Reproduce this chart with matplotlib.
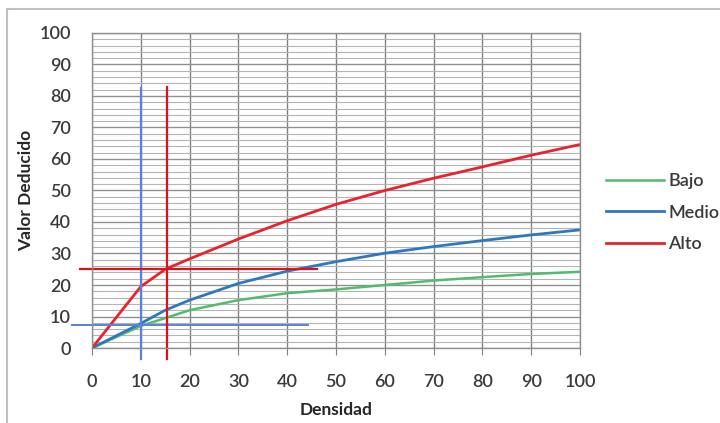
import matplotlib.pyplot as plt
from matplotlib.lines import Line2D
import numpy as np

# Densidad vs Valor Deducido
densidad = [0, 10, 15, 20, 30, 40, 50, 60, 70, 80, 90, 100]
bajo = [0, 7.0, 9.5, 12.0, 15.2, 17.4, 18.6, 20.0, 21.4, 22.5, 23.5, 24.2]
medio = [0, 7.8, 12.0, 15.2, 20.5, 24.4, 27.4, 30.1, 32.2, 34.1, 35.9, 37.5]
alto = [0, 19.5, 25.0, 28.3, 34.6, 40.4, 45.6, 50.0, 53.9, 57.5, 61.2, 64.6]

# lineas de lectura
ref_blue_x = 10
ref_blue_y = 7.4
ref_red_x = 15.4
ref_red_y = 25

plt.rcParams['font.family'] = ['Lato', 'DejaVu Sans']

fig = plt.figure(figsize=(7.2, 4.23), dpi=100)
ax = fig.add_axes([0.1278, 0.1773, 0.6778, 0.7447])

ax.set_xlim(0, 100)
ax.set_ylim(0, 100)
ax.set_xticks(np.arange(0, 101, 10))
ax.set_yticks(np.arange(0, 101, 10))
ax.set_yticks(np.arange(0, 101, 2), minor=True)

ax.grid(axis='y', which='minor', color='#b4b4b4', linewidth=0.8)
ax.grid(axis='y', which='major', color='#909090', linewidth=1.0)
ax.grid(axis='x', which='major', color='#808080', linewidth=1.0)
ax.set_axisbelow(True)

for s in ax.spines.values():
    s.set_color('#909090')
    s.set_linewidth(1.0)

ax.tick_params(axis='y', which='both', length=0, pad=15, labelsize=13, labelcolor='#3a3a3a')
ax.tick_params(axis='x', which='major', length=5, color='#808080', pad=14,
               labelsize=13, labelcolor='#3a3a3a')
for lab in ax.get_xticklabels() + ax.get_yticklabels():
    lab.set_fontweight('semibold')

ax.plot(densidad, bajo, color='#52bb6e', linewidth=1.8, label='Bajo')
ax.plot(densidad, medio, color='#2e78c0', linewidth=2.0, label='Medio')
ax.plot(densidad, alto, color='#e8232b', linewidth=2.0, label='Alto')

# lineas de referencia
ax.plot([ref_blue_x, ref_blue_x], [-3.5, 82.5], color='#5b82d8', linewidth=1.6, clip_on=False)
ax.plot([-4.1, 44.3], [ref_blue_y, ref_blue_y], color='#5b82d8', linewidth=1.4, clip_on=False)
ax.plot([ref_red_x, ref_red_x], [-3.5, 83], color='#e0101a', linewidth=1.6, clip_on=False)
ax.plot([-2.5, 46], [ref_red_y, ref_red_y], color='#e0101a', linewidth=1.6, clip_on=False)

ax.set_xlabel('Densidad', fontsize=12.5, fontweight='bold', color='#262626', labelpad=8)
ax.set_ylabel('Valor Deducido', fontsize=12.5, fontweight='bold', color='#262626', labelpad=4)

leg = ax.legend(loc='center left', bbox_to_anchor=(1.02, 0.43), frameon=False,
                fontsize=13, handlelength=3.2, handletextpad=0.25, labelspacing=0.85,
                labelcolor='#3a3a3a')
for t in leg.get_texts():
    t.set_fontweight('semibold')

# marco del grafico
fig.add_artist(Line2D([7 / 720, 1], [1 - 9 / 423, 1 - 9 / 423], color='#c0c0c0', linewidth=1.5))
fig.add_artist(Line2D([7 / 720, 7 / 720], [0, 1 - 9 / 423], color='#c0c0c0', linewidth=1.5))

fig.savefig('out.png', dpi=100)
